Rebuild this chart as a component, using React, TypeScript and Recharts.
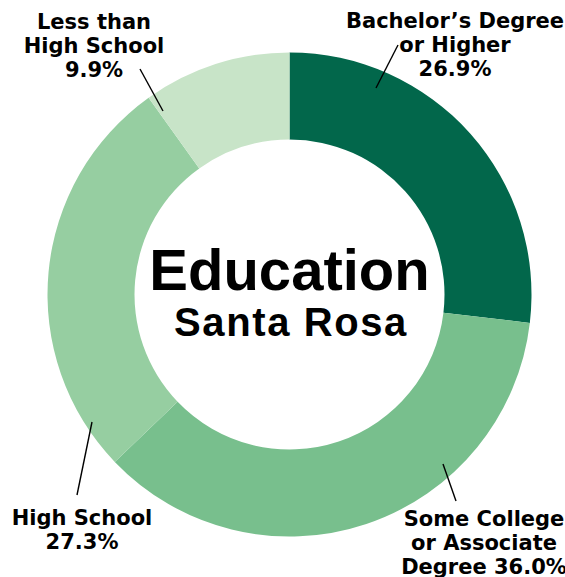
import { PieChart, Pie, Cell, Label } from "recharts";

const categories = ["Bachelor’s Degree or Higher", "Some College or Associate Degree", "High School", "Less than High School"];
const shares = [26.9, 36.0, 27.3, 9.9];
const labelLines = [
  ["Bachelor’s Degree", "or Higher", "26.9%"],
  ["Some College", "or Associate", "Degree 36.0%"],
  ["High School", "27.3%"],
  ["Less than", "High School", "9.9%"],
];

const COLORS = ["#02674B", "#78BF8D", "#96CEA1", "#C8E4C8"];

const W = 565;
const H = 577;
const CX = 289.5;
const CY = 294.5;

// leader line + text position, relative to pie centre
const LABEL_LAYOUT = [
  { x1: 86.5, y1: -206.5, x2: 108.5, y2: -249.5, tx: 165.5, ty: -266.5 },
  { x1: 153.5, y1: 169.5, x2: 166.5, y2: 206.5, tx: 194.5, ty: 231.5 },
  { x1: -197.5, y1: 127.5, x2: -212.5, y2: 200.5, tx: -207.5, ty: 230.5 },
  { x1: -126.5, y1: -183.5, x2: -149.5, y2: -225.5, tx: -195.5, ty: -266 },
];

const data = categories.map((name, i) => ({ name, value: shares[i] }));

const renderLabel = (props: any) => {
  const i = props.index;
  const l = LABEL_LAYOUT[i];
  return (
    <g key={`lbl-${i}`}>
      <line x1={CX + l.x1} y1={CY + l.y1} x2={CX + l.x2} y2={CY + l.y2} stroke="#000" strokeWidth={1.4} />
      <text textAnchor="middle" fontFamily="DejaVu Sans" fontWeight="bold" fontSize={21} fill="#000">
        {labelLines[i].map((t, j) => (
          <tspan key={j} x={CX + l.tx} y={CY + l.ty + j * 24.2}>{t}</tspan>
        ))}
      </text>
    </g>
  );
};

const renderCenter = () => (
  <g>
    <text x={CX} y={CY - 5} textAnchor="middle" fontFamily="Liberation Sans" fontWeight="bold" fontSize={58} fill="#000">
      Education
    </text>
    <text x={CX + 1.5} y={CY + 41.5} textAnchor="middle" fontFamily="Liberation Sans" fontWeight="bold" fontSize={40} letterSpacing={1.6} fill="#000">
      Santa Rosa
    </text>
  </g>
);

export default function App() {
  return (
    <div style={{ position: "absolute", left: 0, top: 0, width: W, height: H, background: "#fff" }}>
      <PieChart width={W} height={H} margin={{ top: 0, right: 0, bottom: 0, left: 0 }}>
        <Pie
          data={data}
          dataKey="value"
          cx={CX}
          cy={CY}
          innerRadius={155}
          outerRadius={242}
          startAngle={90}
          endAngle={-270}
          stroke="none"
          label={renderLabel}
          labelLine={false}
          isAnimationActive={false}
        >
          {data.map((d, i) => (
            <Cell key={d.name} fill={COLORS[i]} />
          ))}
          <Label position="center" content={renderCenter} />
        </Pie>
      </PieChart>
    </div>
  );
}
